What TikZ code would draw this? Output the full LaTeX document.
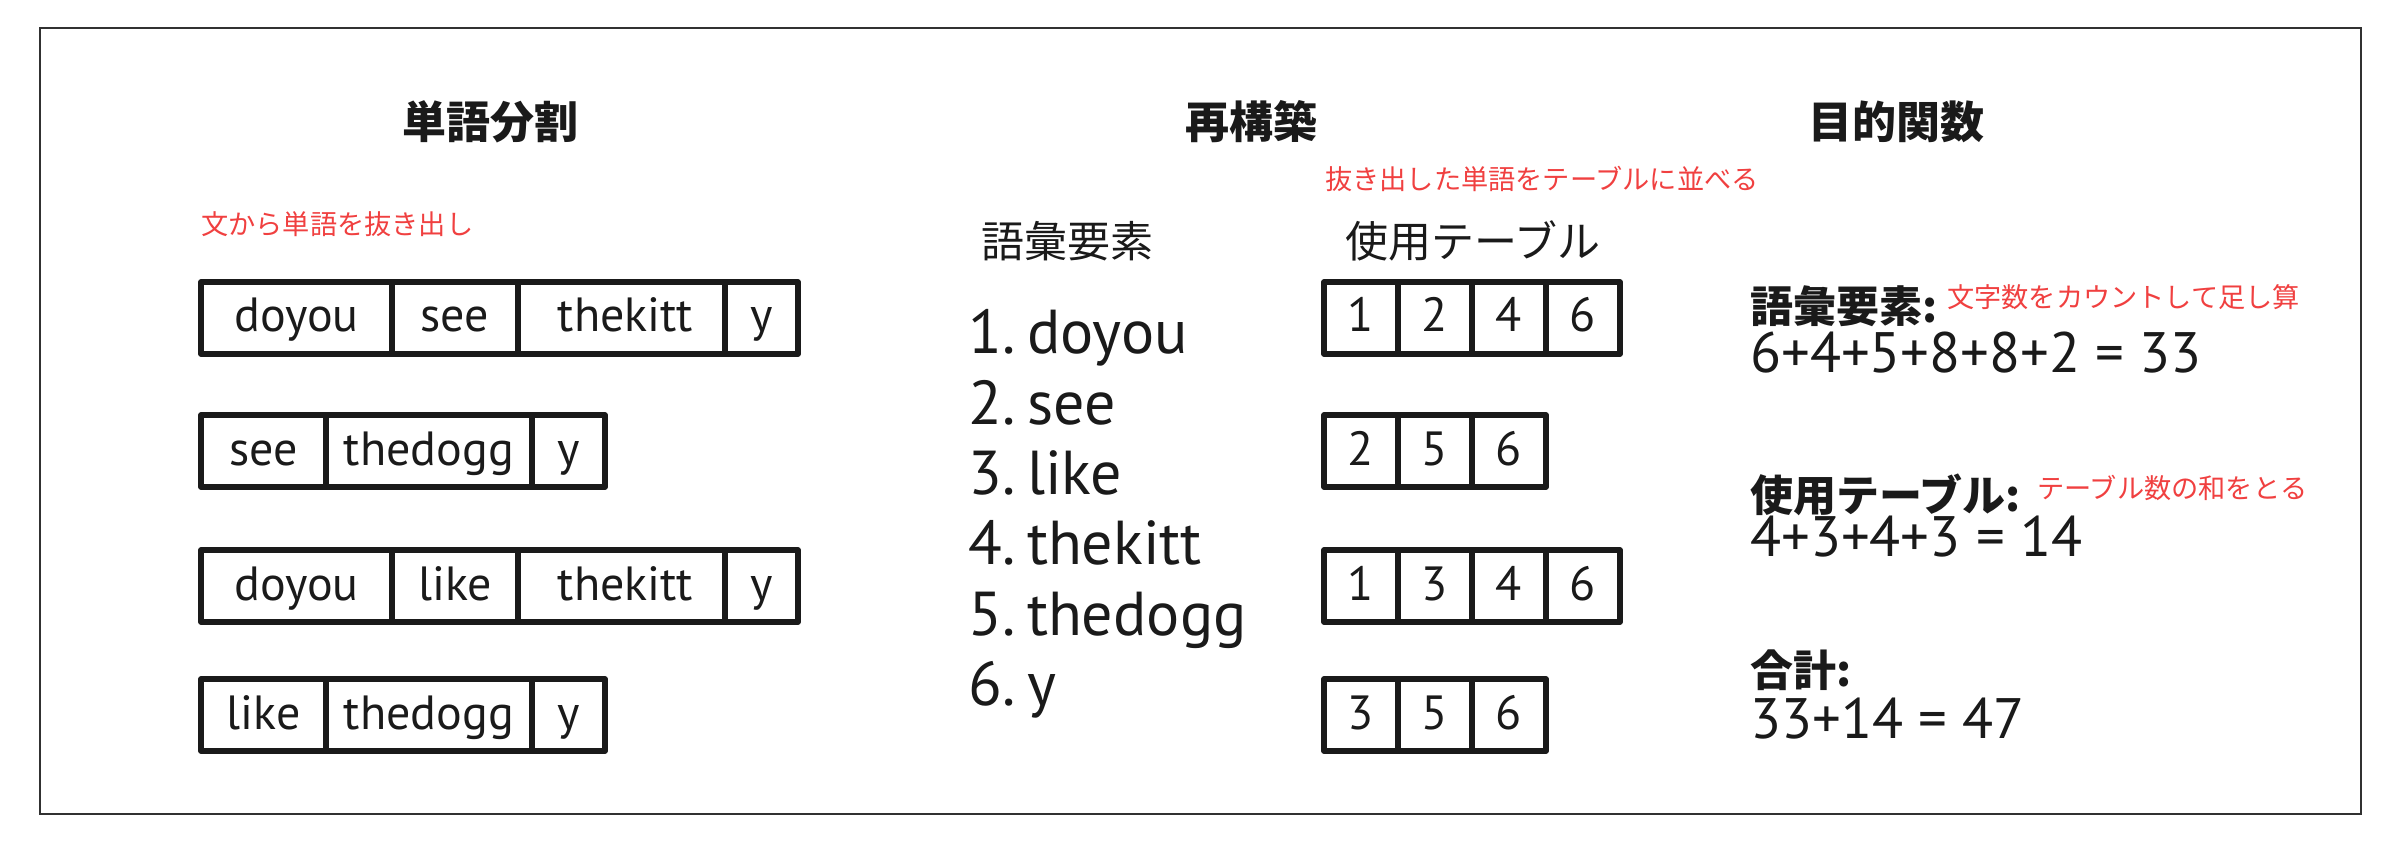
\documentclass[tikz,border=0pt]{standalone}
\usepackage{fontspec}
\setmainfont{PT Sans}
\newfontfamily\cjk{Noto Sans CJK JP}
\usetikzlibrary{positioning}
\definecolor{note}{RGB}{240,64,64}
\definecolor{ink}{RGB}{26,26,26}
\tikzset{
  cell/.style={draw=ink, line width=5.5pt, line join=round, minimum height=72pt,
    inner sep=0pt, outer sep=0pt, text height=38pt, text depth=10pt,
    font=\fontsize{48}{58}\selectfont, text=ink},
  heading/.style={anchor=base, inner sep=0pt, text=ink, font=\cjk\bfseries\fontsize{44}{52}\selectfont},
  colhead/.style={anchor=base west, inner sep=0pt, text=ink, font=\cjk\fontsize{43}{52}\selectfont},
  label/.style={anchor=base west, inner sep=0pt, text=ink, font=\cjk\bfseries\fontsize{43}{52}\selectfont},
  notetext/.style={anchor=base west, inner sep=0pt, text=note, font=\cjk\fontsize{27.2}{33}\selectfont},
  listitem/.style={anchor=base west, inner sep=0pt, text=ink, font=\fontsize{62}{70}\selectfont},
  equation/.style={anchor=base west, inner sep=0pt, text=ink, font=\fontsize{57}{66}\selectfont},
}
\newcommand\itemgap{\hspace{0.19em}}
\begin{document}
\begin{tikzpicture}[x=1pt,y=-1pt]
\useasboundingbox (0,0) rectangle (2386,842);
\draw[line width=2pt, draw=ink!90] (40,28) rectangle (2361,814);

% headings
\node[heading] (h1) at (490,139) {単語分割};
\node[heading] (h2) at (1251,139) {再構築};
\node[heading] (h3) at (1896,139) {目的関数};

% notes
\node[notetext] (n1) at (201,235) {文から単語を抜き出し};
\node[notetext] (n2) at (1325,190) {抜き出した単語をテーブルに並べる};

% segmentation rows
\node[cell, minimum width=191pt, anchor=north west] (a1) at (201,282) {doyou};
\node[cell, minimum width=126pt, right=0pt of a1] (a2) {see};
\node[cell, minimum width=207pt, right=0pt of a2] (a3) {\hspace{8pt}thekitt};
\node[cell, minimum width=73pt, right=0pt of a3] (a4) {y};

\node[cell, minimum width=125pt, anchor=north west] (b1) at (201,415) {see};
\node[cell, minimum width=206pt, right=0pt of b1] (b2) {thedogg};
\node[cell, minimum width=73pt, right=0pt of b2] (b3) {y};

\node[cell, minimum width=191pt, anchor=north west] (c1) at (201,550) {doyou};
\node[cell, minimum width=126pt, right=0pt of c1] (c2) {like};
\node[cell, minimum width=207pt, right=0pt of c2] (c3) {\hspace{8pt}thekitt};
\node[cell, minimum width=73pt, right=0pt of c3] (c4) {y};

\node[cell, minimum width=125pt, anchor=north west] (d1) at (201,679) {like};
\node[cell, minimum width=206pt, right=0pt of d1] (d2) {thedogg};
\node[cell, minimum width=73pt, right=0pt of d2] (d3) {y};

% vocabulary
\node[colhead] (v0) at (981,258) {語彙要素};
\node[listitem] (v1) at (968,354) {1.\itemgap doyou};
\node[listitem] (v2) at (968,424) {2.\itemgap see};
\node[listitem] (v3) at (968,494) {3.\itemgap like};
\node[listitem] (v4) at (968,564) {4.\itemgap thekitt};
\node[listitem] (v5) at (968,635) {5.\itemgap thedogg};
\node[listitem] (v6) at (968,705) {6.\itemgap y};

% tables
\node[colhead] (t0) at (1345,258) {使用テーブル};
\node[cell, minimum width=74pt, anchor=north west] (p1) at (1324,282) {1};
\node[cell, minimum width=74pt, right=0pt of p1] (p2) {2};
\node[cell, minimum width=74pt, right=0pt of p2] (p3) {4};
\node[cell, minimum width=74pt, right=0pt of p3] (p4) {6};

\node[cell, minimum width=74pt, anchor=north west] (q1) at (1324,415) {2};
\node[cell, minimum width=74pt, right=0pt of q1] (q2) {5};
\node[cell, minimum width=74pt, right=0pt of q2] (q3) {6};

\node[cell, minimum width=74pt, anchor=north west] (r1) at (1324,550) {1};
\node[cell, minimum width=74pt, right=0pt of r1] (r2) {3};
\node[cell, minimum width=74pt, right=0pt of r2] (r3) {4};
\node[cell, minimum width=74pt, right=0pt of r3] (r4) {6};

\node[cell, minimum width=74pt, anchor=north west] (s1) at (1324,679) {3};
\node[cell, minimum width=74pt, right=0pt of s1] (s2) {5};
\node[cell, minimum width=74pt, right=0pt of s2] (s3) {6};

% objective
\node[label] (o1) at (1750,323) {語彙要素:};
\node[notetext] (o1n) at (1947,308) {文字数をカウントして足し算};
\node[equation] (e1) at (1750,373) {6+4+5+8+8+2 = 33};

\node[label] (o2) at (1750,511) {使用テーブル:};
\node[notetext] (o2n) at (2037,498) {テーブル数の和をとる};
\node[equation] (e2) at (1750,556) {4+3+4+3 = 14};

\node[label] (o3) at (1750,686) {合計:};
\node[equation] (e3) at (1750,738) {33+14 = 47};
\end{tikzpicture}
\end{document}
